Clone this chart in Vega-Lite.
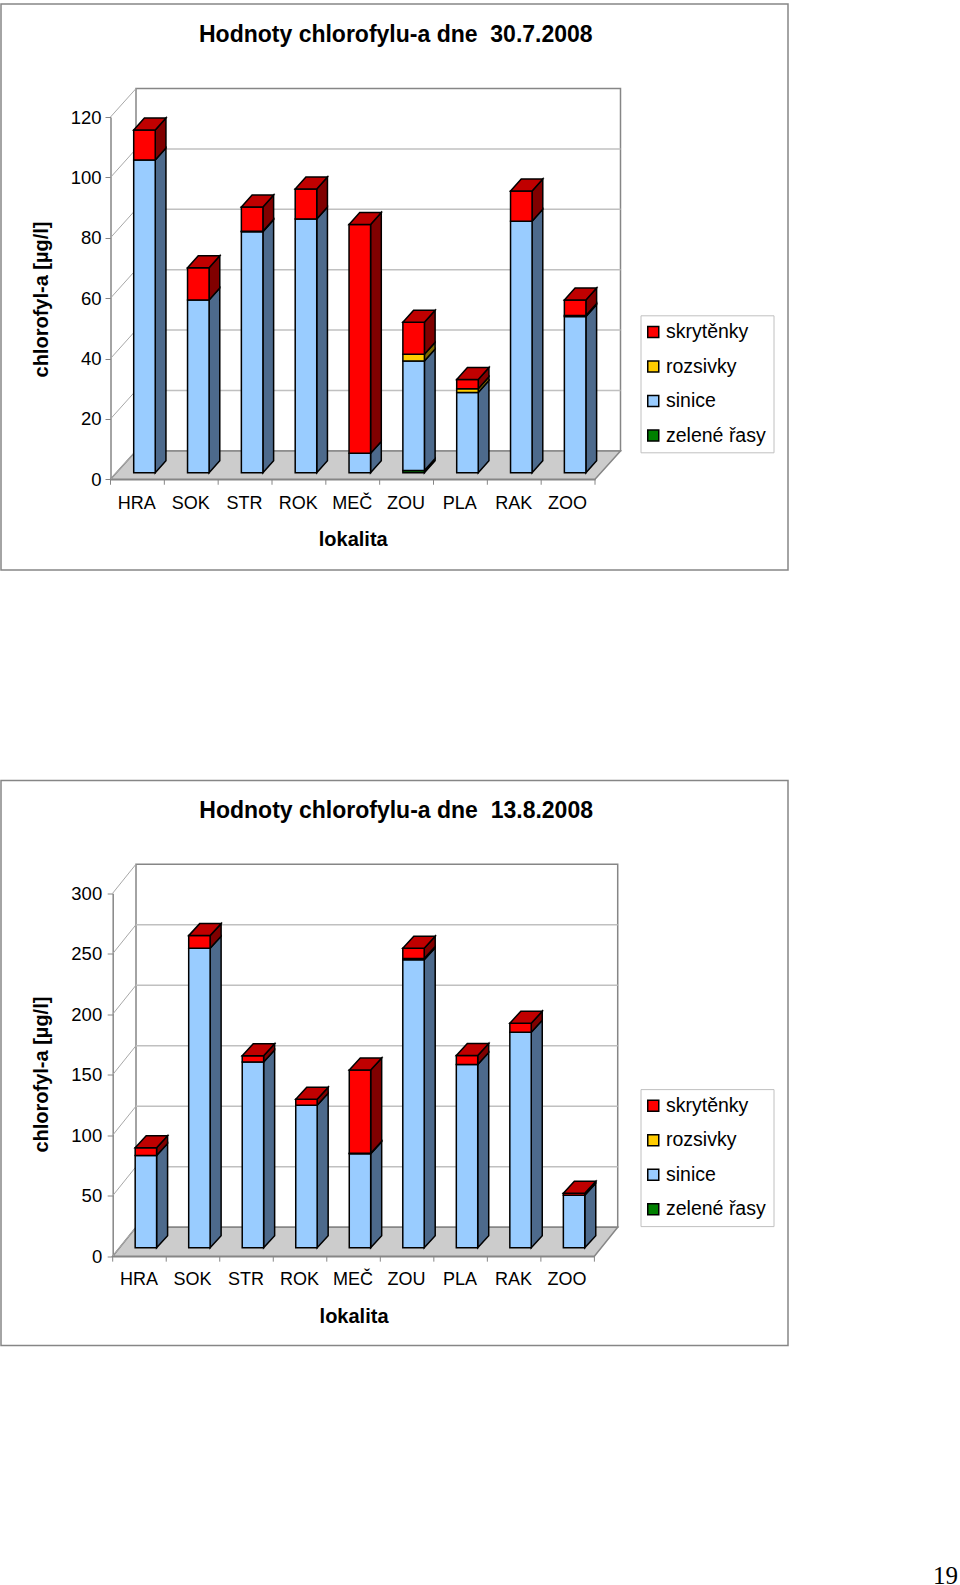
{"$schema":"https://vega.github.io/schema/vega-lite/v6.json","padding":{"left":0,"top":3,"right":0,"bottom":0},"spacing":208.5,"background":"white",
"datasets":{
"d1":[
{"site":"HRA","i":0,"series":"zelené řasy","ord":0,"value":0},{"site":"HRA","i":0,"series":"sinice","ord":1,"value":103.6},{"site":"HRA","i":0,"series":"rozsivky","ord":2,"value":0},{"site":"HRA","i":0,"series":"skrytěnky","ord":3,"value":9.9},
{"site":"SOK","i":1,"series":"zelené řasy","ord":0,"value":0},{"site":"SOK","i":1,"series":"sinice","ord":1,"value":57.2},{"site":"SOK","i":1,"series":"rozsivky","ord":2,"value":0},{"site":"SOK","i":1,"series":"skrytěnky","ord":3,"value":10.7},
{"site":"STR","i":2,"series":"zelené řasy","ord":0,"value":0},{"site":"STR","i":2,"series":"sinice","ord":1,"value":79.8},{"site":"STR","i":2,"series":"rozsivky","ord":2,"value":0.2},{"site":"STR","i":2,"series":"skrytěnky","ord":3,"value":8},
{"site":"ROK","i":3,"series":"zelené řasy","ord":0,"value":0},{"site":"ROK","i":3,"series":"sinice","ord":1,"value":84},{"site":"ROK","i":3,"series":"rozsivky","ord":2,"value":0},{"site":"ROK","i":3,"series":"skrytěnky","ord":3,"value":10},
{"site":"MEČ","i":4,"series":"zelené řasy","ord":0,"value":0},{"site":"MEČ","i":4,"series":"sinice","ord":1,"value":6.4},{"site":"MEČ","i":4,"series":"rozsivky","ord":2,"value":0},{"site":"MEČ","i":4,"series":"skrytěnky","ord":3,"value":75.8},
{"site":"ZOU","i":5,"series":"zelené řasy","ord":0,"value":0.7},{"site":"ZOU","i":5,"series":"sinice","ord":1,"value":36.3},{"site":"ZOU","i":5,"series":"rozsivky","ord":2,"value":2.2},{"site":"ZOU","i":5,"series":"skrytěnky","ord":3,"value":10.6},
{"site":"PLA","i":6,"series":"zelené řasy","ord":0,"value":0},{"site":"PLA","i":6,"series":"sinice","ord":1,"value":26.6},{"site":"PLA","i":6,"series":"rozsivky","ord":2,"value":1.2},{"site":"PLA","i":6,"series":"skrytěnky","ord":3,"value":3.1},
{"site":"RAK","i":7,"series":"zelené řasy","ord":0,"value":0},{"site":"RAK","i":7,"series":"sinice","ord":1,"value":83.3},{"site":"RAK","i":7,"series":"rozsivky","ord":2,"value":0},{"site":"RAK","i":7,"series":"skrytěnky","ord":3,"value":10},
{"site":"ZOO","i":8,"series":"zelené řasy","ord":0,"value":0},{"site":"ZOO","i":8,"series":"sinice","ord":1,"value":51.7},{"site":"ZOO","i":8,"series":"rozsivky","ord":2,"value":0.4},{"site":"ZOO","i":8,"series":"skrytěnky","ord":3,"value":5.1}],
"d2":[
{"site":"HRA","i":0,"series":"zelené řasy","ord":0,"value":0},{"site":"HRA","i":0,"series":"sinice","ord":1,"value":76.3},{"site":"HRA","i":0,"series":"rozsivky","ord":2,"value":0},{"site":"HRA","i":0,"series":"skrytěnky","ord":3,"value":6.4},
{"site":"SOK","i":1,"series":"zelené řasy","ord":0,"value":0},{"site":"SOK","i":1,"series":"sinice","ord":1,"value":247.6},{"site":"SOK","i":1,"series":"rozsivky","ord":2,"value":0},{"site":"SOK","i":1,"series":"skrytěnky","ord":3,"value":10.4},
{"site":"STR","i":2,"series":"zelené řasy","ord":0,"value":0},{"site":"STR","i":2,"series":"sinice","ord":1,"value":153.6},{"site":"STR","i":2,"series":"rozsivky","ord":2,"value":0},{"site":"STR","i":2,"series":"skrytěnky","ord":3,"value":5.1},
{"site":"ROK","i":3,"series":"zelené řasy","ord":0,"value":0},{"site":"ROK","i":3,"series":"sinice","ord":1,"value":117.8},{"site":"ROK","i":3,"series":"rozsivky","ord":2,"value":0},{"site":"ROK","i":3,"series":"skrytěnky","ord":3,"value":5},
{"site":"MEČ","i":4,"series":"zelené řasy","ord":0,"value":0},{"site":"MEČ","i":4,"series":"sinice","ord":1,"value":77.7},{"site":"MEČ","i":4,"series":"rozsivky","ord":2,"value":0.5},{"site":"MEČ","i":4,"series":"skrytěnky","ord":3,"value":68.8},
{"site":"ZOU","i":5,"series":"zelené řasy","ord":0,"value":0},{"site":"ZOU","i":5,"series":"sinice","ord":1,"value":238},{"site":"ZOU","i":5,"series":"rozsivky","ord":2,"value":1},{"site":"ZOU","i":5,"series":"skrytěnky","ord":3,"value":8.6},
{"site":"PLA","i":6,"series":"zelené řasy","ord":0,"value":0},{"site":"PLA","i":6,"series":"sinice","ord":1,"value":151.5},{"site":"PLA","i":6,"series":"rozsivky","ord":2,"value":0},{"site":"PLA","i":6,"series":"skrytěnky","ord":3,"value":7.5},
{"site":"RAK","i":7,"series":"zelené řasy","ord":0,"value":0},{"site":"RAK","i":7,"series":"sinice","ord":1,"value":178.2},{"site":"RAK","i":7,"series":"rozsivky","ord":2,"value":0},{"site":"RAK","i":7,"series":"skrytěnky","ord":3,"value":7.4},
{"site":"ZOO","i":8,"series":"zelené řasy","ord":0,"value":0},{"site":"ZOO","i":8,"series":"sinice","ord":1,"value":43.4},{"site":"ZOO","i":8,"series":"rozsivky","ord":2,"value":0},{"site":"ZOO","i":8,"series":"skrytěnky","ord":3,"value":1.6}],
"one":[{"n":1}],
"g1":[{"v":0},{"v":20},{"v":40},{"v":60},{"v":80},{"v":100},{"v":120}],
"g2":[{"v":0},{"v":50},{"v":100},{"v":150},{"v":200},{"v":250},{"v":300}],
"t":[{"k":0},{"k":1},{"k":2},{"k":3},{"k":4},{"k":5},{"k":6},{"k":7},{"k":8},{"k":9}]
},
"vconcat":[
{"width":787,"height":566,"view":{"stroke":"#868686","strokeWidth":1.5,"fill":"white"},
"resolve":{"scale":{"fill":"independent"}},
"encoding":{
"x":{"field":"x","type":"quantitative","scale":{"domain":[0,9],"range":[109.5,594],"nice":false,"zero":false},
"axis":{"orient":"bottom","values":[0.48,1.48,2.48,3.48,4.48,5.48,6.48,7.48,8.48],"labelExpr":"['HRA','SOK','STR','ROK','MEČ','ZOU','PLA','RAK','ZOO'][floor(datum.value)]","ticks":false,"grid":false,"domainColor":"#868686","domainWidth":1.5,"labelFont":"Liberation Sans","labelFontSize":18,"labelColor":"black","labelPadding":15,"labelFlush":false,"labelOverlap":false,"title":"lokalita","titleFont":"Liberation Sans","titleFontSize":20,"titleFontWeight":"bold","titleColor":"black","titlePadding":17,"offset":-90.7}},
"y":{"field":"y","type":"quantitative","stack":null,"scale":{"domain":[0,120],"range":[475.3,113],"nice":false,"zero":false},
"axis":{"offset":-109.5,"values":[0,20,40,60,80,100,120],"grid":false,"domainColor":"#868686","domainWidth":1.5,"tickColor":"#868686","tickWidth":1,"tickSize":5.5,"labelFont":"Liberation Sans","labelFontSize":18.5,"labelColor":"black","labelPadding":4,"labelFlush":false,"labelOverlap":false,"title":"chlorofyl-a [µg/l]","titleFont":"Liberation Sans","titleFontSize":20,"titleFontWeight":"bold","titleColor":"black","titleX":-59,"titleY":295}}},
"layer":[
{"data":{"name":"one"},"mark":{"type":"rect","fill":"white","stroke":"#868686","strokeWidth":1.5},
"transform":[{"calculate":"0.4737","as":"x"},{"calculate":"9.4737","as":"x2"},{"calculate":"9.41","as":"y"},{"calculate":"129.41","as":"y2"}],
"encoding":{"x2":{"field":"x2"},"y2":{"field":"y2"}}},
{"data":{"name":"one"},"mark":{"type":"area","orient":"vertical","fill":"#cccccc","stroke":"#868686","strokeWidth":1.5},
"transform":[{"calculate":"[0,1,2,3]","as":"c"},{"flatten":["c"]},{"calculate":"[0,0.4737,9,9.4737][datum.c]","as":"x"},{"calculate":"[0,0,0,9.41][datum.c]","as":"y"},{"calculate":"[0,9.41,9.41,9.41][datum.c]","as":"y2"}],
"encoding":{"y2":{"field":"y2"}}},
{"data":{"name":"g1"},"mark":{"type":"rule","stroke":"#c0c0c0","strokeWidth":1.5},
"transform":[{"filter":"datum.v>0 && datum.v<120"},{"calculate":"0.4737","as":"x"},{"calculate":"9.4737","as":"x2"},{"calculate":"datum.v+9.41","as":"y"},{"calculate":"datum.v+9.41","as":"y2"}],
"encoding":{"x2":{"field":"x2"},"y2":{"field":"y2"}}},
{"data":{"name":"g1"},"mark":{"type":"rule","stroke":"#a8a8a8","strokeWidth":1},
"transform":[{"calculate":"0","as":"x"},{"calculate":"0.4737","as":"x2"},{"calculate":"datum.v","as":"y"},{"calculate":"datum.v+9.41","as":"y2"}],
"encoding":{"x2":{"field":"x2"},"y2":{"field":"y2"}}},
{"data":{"name":"t"},"mark":{"type":"rule","stroke":"#868686","strokeWidth":1},
"transform":[{"calculate":"datum.k","as":"x"},{"calculate":"datum.k","as":"x2"},{"calculate":"0","as":"y"},{"calculate":"-1.8","as":"y2"}],
"encoding":{"x2":{"field":"x2"},"y2":{"field":"y2"}}},
{"data":{"name":"d1"},"mark":{"type":"area","orient":"vertical","stroke":"black","strokeWidth":1.5},
"transform":[{"stack":"value","groupby":["i"],"sort":[{"field":"ord"}],"as":["s0","s1"]},{"filter":"datum.value>0"},{"calculate":"[0,1]","as":"c"},{"flatten":["c"]},{"calculate":"datum.i+0.431+0.4+datum.c*0.199","as":"x"},{"calculate":"datum.s0+2.19+datum.c*3.97","as":"y"},{"calculate":"datum.s1+2.19+datum.c*3.97","as":"y2"}],
"encoding":{"y2":{"field":"y2"},"detail":{"field":"site"},"fill":{"field":"series","type":"nominal","legend":null,"scale":{"domain":["skrytěnky","rozsivky","sinice","zelené řasy"],"range":["#800000","#806600","#4d6a8c","#004000"]}}}},
{"data":{"name":"d1"},"mark":{"type":"rect","stroke":"black","strokeWidth":1.5},
"transform":[{"stack":"value","groupby":["i"],"sort":[{"field":"ord"}],"as":["s0","s1"]},{"filter":"datum.value>0"},{"calculate":"datum.i+0.431","as":"x"},{"calculate":"datum.i+0.431+0.4","as":"x2"},{"calculate":"datum.s0+2.19","as":"y"},{"calculate":"datum.s1+2.19","as":"y2"}],
"encoding":{"x2":{"field":"x2"},"y2":{"field":"y2"},"fill":{"field":"series","type":"nominal","scale":{"domain":["skrytěnky","rozsivky","sinice","zelené řasy"],"range":["#ff0000","#ffcc00","#99ccff","#008000"]},
"legend":{"title":null,"orient":"none","legendX":639.5,"legendY":311.3,"symbolType":"square","symbolSize":121,"symbolStrokeColor":"black","symbolStrokeWidth":1.5,"symbolOffset":-4,"labelFont":"Liberation Sans","labelFontSize":19.5,"labelColor":"black","rowPadding":13.5,"padding":7,"labelOffset":3,"strokeColor":"#c0c0c0","fillColor":"white"}}}},
{"data":{"name":"d1"},"mark":{"type":"area","orient":"vertical","stroke":"black","strokeWidth":1.5},
"transform":[{"stack":"value","groupby":["i"],"sort":[{"field":"ord"}],"as":["s0","s1"]},{"joinaggregate":[{"op":"max","field":"s1","as":"top"}],"groupby":["i"]},{"filter":"datum.s1==datum.top && datum.value>0"},{"calculate":"[0,1,2,3]","as":"c"},{"flatten":["c"]},{"calculate":"datum.i+0.431+[0,0.199,0.4,0.599][datum.c]","as":"x"},{"calculate":"datum.top+2.19+[0,0,0,3.97][datum.c]","as":"y"},{"calculate":"datum.top+2.19+[0,3.97,3.97,3.97][datum.c]","as":"y2"}],
"encoding":{"y2":{"field":"y2"},"detail":{"field":"site"},"fill":{"field":"series","type":"nominal","legend":null,"scale":{"domain":["skrytěnky","rozsivky","sinice","zelené řasy"],"range":["#c00000","#c09900","#7399bf","#006000"]}}}},
{"data":{"name":"one"},"mark":{"type":"text","align":"center","baseline":"alphabetic","font":"Liberation Sans","fontSize":23,"fontWeight":"bold","color":"black"},
"transform":[{"calculate":"5.3","as":"x"},{"calculate":"145","as":"y"}],
"encoding":{"text":{"value":"Hodnoty chlorofylu-a dne \u00a030.7.2008"}}}
]},
{"width":787,"height":565,"view":{"stroke":"#868686","strokeWidth":1.5,"fill":"white"},
"resolve":{"scale":{"fill":"independent"}},
"encoding":{
"x":{"field":"x","type":"quantitative","scale":{"domain":[0,9],"range":[111.7,593.4],"nice":false,"zero":false},
"axis":{"orient":"bottom","values":[0.48,1.48,2.48,3.48,4.48,5.48,6.48,7.48,8.48],"labelExpr":"['HRA','SOK','STR','ROK','MEČ','ZOU','PLA','RAK','ZOO'][floor(datum.value)]","ticks":false,"grid":false,"domainColor":"#868686","domainWidth":1.5,"labelFont":"Liberation Sans","labelFontSize":18,"labelColor":"black","labelPadding":14,"labelFlush":false,"labelOverlap":false,"title":"lokalita","titleFont":"Liberation Sans","titleFontSize":20,"titleFontWeight":"bold","titleColor":"black","titlePadding":18,"offset":-89.3}},
"y":{"field":"y","type":"quantitative","stack":null,"scale":{"domain":[0,300],"range":[475.7,112.7],"nice":false,"zero":false},
"axis":{"offset":-111.7,"values":[0,50,100,150,200,250,300],"grid":false,"domainColor":"#868686","domainWidth":1.5,"tickColor":"#868686","tickWidth":1,"tickSize":5.5,"labelFont":"Liberation Sans","labelFontSize":18.5,"labelColor":"black","labelPadding":5.5,"labelFlush":false,"labelOverlap":false,"title":"chlorofyl-a [µg/l]","titleFont":"Liberation Sans","titleFontSize":20,"titleFontWeight":"bold","titleColor":"black","titleX":-61,"titleY":293.6}}},
"layer":[
{"data":{"name":"one"},"mark":{"type":"rect","fill":"white","stroke":"#868686","strokeWidth":1.5},
"transform":[{"calculate":"0.4355","as":"x"},{"calculate":"9.4355","as":"x2"},{"calculate":"24","as":"y"},{"calculate":"324","as":"y2"}],
"encoding":{"x2":{"field":"x2"},"y2":{"field":"y2"}}},
{"data":{"name":"one"},"mark":{"type":"area","orient":"vertical","fill":"#cccccc","stroke":"#868686","strokeWidth":1.5},
"transform":[{"calculate":"[0,1,2,3]","as":"c"},{"flatten":["c"]},{"calculate":"[0,0.4355,9,9.4355][datum.c]","as":"x"},{"calculate":"[0,0,0,24][datum.c]","as":"y"},{"calculate":"[0,24,24,24][datum.c]","as":"y2"}],
"encoding":{"y2":{"field":"y2"}}},
{"data":{"name":"g2"},"mark":{"type":"rule","stroke":"#c0c0c0","strokeWidth":1.5},
"transform":[{"filter":"datum.v>0 && datum.v<300"},{"calculate":"0.4355","as":"x"},{"calculate":"9.4355","as":"x2"},{"calculate":"datum.v+24","as":"y"},{"calculate":"datum.v+24","as":"y2"}],
"encoding":{"x2":{"field":"x2"},"y2":{"field":"y2"}}},
{"data":{"name":"g2"},"mark":{"type":"rule","stroke":"#a8a8a8","strokeWidth":1},
"transform":[{"calculate":"0","as":"x"},{"calculate":"0.4355","as":"x2"},{"calculate":"datum.v","as":"y"},{"calculate":"datum.v+24","as":"y2"}],
"encoding":{"x2":{"field":"x2"},"y2":{"field":"y2"}}},
{"data":{"name":"t"},"mark":{"type":"rule","stroke":"#868686","strokeWidth":1},
"transform":[{"calculate":"datum.k","as":"x"},{"calculate":"datum.k","as":"x2"},{"calculate":"0","as":"y"},{"calculate":"-4.5","as":"y2"}],
"encoding":{"x2":{"field":"x2"},"y2":{"field":"y2"}}},
{"data":{"name":"d2"},"mark":{"type":"area","orient":"vertical","stroke":"black","strokeWidth":1.5},
"transform":[{"stack":"value","groupby":["i"],"sort":[{"field":"ord"}],"as":["s0","s1"]},{"filter":"datum.value>0"},{"calculate":"[0,1]","as":"c"},{"flatten":["c"]},{"calculate":"datum.i+0.42+0.4+datum.c*0.2056","as":"x"},{"calculate":"datum.s0+6.94+datum.c*9.92","as":"y"},{"calculate":"datum.s1+6.94+datum.c*9.92","as":"y2"}],
"encoding":{"y2":{"field":"y2"},"detail":{"field":"site"},"fill":{"field":"series","type":"nominal","legend":null,"scale":{"domain":["skrytěnky","rozsivky","sinice","zelené řasy"],"range":["#800000","#806600","#4d6a8c","#004000"]}}}},
{"data":{"name":"d2"},"mark":{"type":"rect","stroke":"black","strokeWidth":1.5},
"transform":[{"stack":"value","groupby":["i"],"sort":[{"field":"ord"}],"as":["s0","s1"]},{"filter":"datum.value>0"},{"calculate":"datum.i+0.42","as":"x"},{"calculate":"datum.i+0.42+0.4","as":"x2"},{"calculate":"datum.s0+6.94","as":"y"},{"calculate":"datum.s1+6.94","as":"y2"}],
"encoding":{"x2":{"field":"x2"},"y2":{"field":"y2"},"fill":{"field":"series","type":"nominal","scale":{"domain":["skrytěnky","rozsivky","sinice","zelené řasy"],"range":["#ff0000","#ffcc00","#99ccff","#008000"]},
"legend":{"title":null,"orient":"none","legendX":639.5,"legendY":308.6,"symbolType":"square","symbolSize":121,"symbolStrokeColor":"black","symbolStrokeWidth":1.5,"symbolOffset":-4,"labelFont":"Liberation Sans","labelFontSize":19.5,"labelColor":"black","rowPadding":13.5,"padding":7,"labelOffset":3,"strokeColor":"#c0c0c0","fillColor":"white"}}}},
{"data":{"name":"d2"},"mark":{"type":"area","orient":"vertical","stroke":"black","strokeWidth":1.5},
"transform":[{"stack":"value","groupby":["i"],"sort":[{"field":"ord"}],"as":["s0","s1"]},{"joinaggregate":[{"op":"max","field":"s1","as":"top"}],"groupby":["i"]},{"filter":"datum.s1==datum.top && datum.value>0"},{"calculate":"[0,1,2,3]","as":"c"},{"flatten":["c"]},{"calculate":"datum.i+0.42+[0,0.2056,0.4,0.6056][datum.c]","as":"x"},{"calculate":"datum.top+6.94+[0,0,0,9.92][datum.c]","as":"y"},{"calculate":"datum.top+6.94+[0,9.92,9.92,9.92][datum.c]","as":"y2"}],
"encoding":{"y2":{"field":"y2"},"detail":{"field":"site"},"fill":{"field":"series","type":"nominal","legend":null,"scale":{"domain":["skrytěnky","rozsivky","sinice","zelené řasy"],"range":["#c00000","#c09900","#7399bf","#006000"]}}}},
{"data":{"name":"one"},"mark":{"type":"text","align":"center","baseline":"alphabetic","font":"Liberation Sans","fontSize":23,"fontWeight":"bold","color":"black"},
"transform":[{"calculate":"5.296","as":"x"},{"calculate":"362.5","as":"y"}],
"encoding":{"text":{"value":"Hodnoty chlorofylu-a dne \u00a013.8.2008"}}},
{"data":{"name":"one"},"mark":{"type":"text","align":"center","baseline":"alphabetic","font":"Liberation Serif","fontSize":25,"color":"black"},
"transform":[{"calculate":"15.56","as":"x"},{"calculate":"-270.5","as":"y"}],
"encoding":{"text":{"value":"19"}}}
]}
]}
